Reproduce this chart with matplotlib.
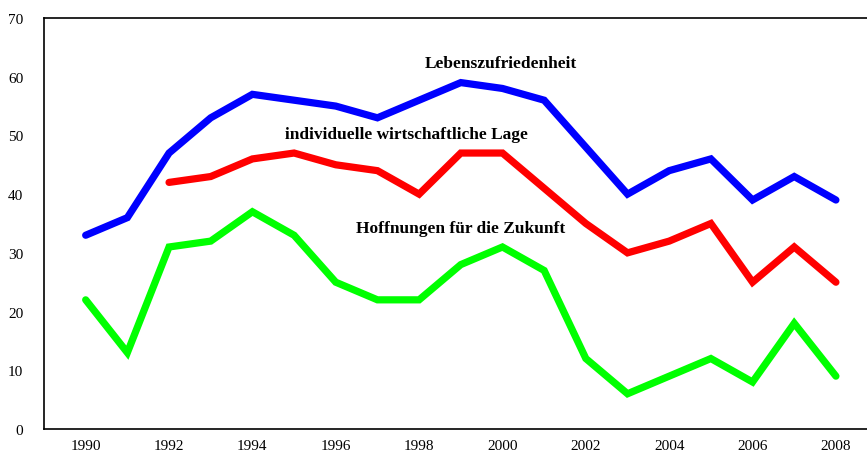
import matplotlib
matplotlib.use("Agg")
import matplotlib.pyplot as plt

years = list(range(1990, 2009))
leben = [33, 36, 47, 53, 57, 56, 55, 53, 56, 59, 58, 56, 48, 40, 44, 46, 39, 43, 39]
lage_years = list(range(1992, 2009))
lage = [42, 43, 46, 47, 45, 44, 40, 47, 47, 41, 35, 30, 32, 35, 25, 31, 25]
hoff = [22, 13, 31, 32, 37, 33, 25, 22, 22, 28, 31, 27, 12, 6, 9, 12, 8, 18, 9]
xticks = list(range(1990, 2009, 2))
yticks = list(range(0, 71, 10))

plt.rcParams['font.family'] = ['Liberation Serif', 'DejaVu Serif']

fig = plt.figure(figsize=(8.67, 4.56), dpi=100)
ax = fig.add_axes([44/867, 26/456, (877.6-44)/867, (430-19)/456])
ax.plot(years, leben, color='#0000ff', lw=5.2, solid_capstyle='round', solid_joinstyle='miter')
ax.plot(lage_years, lage, color='#ff0000', lw=5.2, solid_capstyle='round', solid_joinstyle='miter')
ax.plot(years, hoff, color='#00ff00', lw=5.2, solid_capstyle='round', solid_joinstyle='miter')

ax.set_xlim(1989, 2009)
ax.set_ylim(0, 70)
ax.set_xticks(xticks)
ax.set_xticklabels([str(x) for x in xticks])
ax.set_yticks(yticks)
ax.tick_params(length=0, labelsize=11)
ax.tick_params(axis='x', pad=7.5)
ax.tick_params(axis='y', pad=15)
for s in ['left', 'bottom', 'top']:
    ax.spines[s].set_linewidth(1.2)
ax.spines['right'].set_visible(False)

lbl = dict(fontsize=12.5, fontweight='bold', ha='center', va='center')
ax.text(1999.95, 62.4, 'Lebenszufriedenheit', **lbl)
ax.text(1997.7, 50.2, 'individuelle wirtschaftliche Lage', **lbl)
ax.text(1999.0, 34.2, 'Hoffnungen für die Zukunft', **lbl)

fig.savefig('out.png', dpi=100)
